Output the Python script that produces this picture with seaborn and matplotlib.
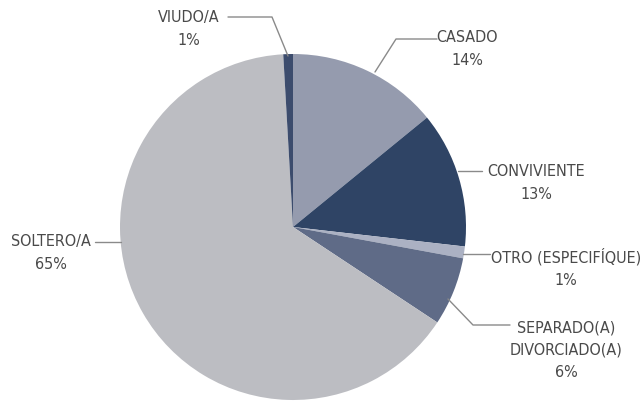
import numpy as np
import seaborn as sns
import matplotlib.pyplot as plt

sns.set_style("white")
plt.rcParams['font.family'] = ['DejaVu Sans']

# datos
categorias = ["CASADO", "CONVIVIENTE", "OTRO (ESPECIFÍQUE)",
              "SEPARADO(A)\nDIVORCIADO(A)", "SOLTERO/A", "VIUDO/A"]
porcentajes = [14.1, 12.7, 1.1, 6.4, 64.8, 0.9]
colores = ["#959bae", "#2f4465", "#abb1c3", "#5f6b87", "#bcbdc2", "#3c4c6d"]

fig = plt.figure(figsize=(6.4, 4.02), dpi=100)
ax = fig.add_axes([120 / 640, 1 / 402, 346 / 640, 346 / 402])
wedges, _ = ax.pie(porcentajes, colors=colores, startangle=90, counterclock=False,
                   radius=1, wedgeprops=dict(linewidth=0))
ax.set_xlim(-1, 1)
ax.set_ylim(-1, 1)
ax.set_aspect('equal')
ax.axis('off')

R = 173.0
def d(px, py):
    return ((px - 293) / R, (228 - py) / R)

# inicio, codo y final de la linea guia + centro del texto, en pixeles
layout = [
    ((375, 73), (396, 40), (437, 40), (467, 49)),
    ((458, 172), (482, 172), (482, 172), (536, 183)),
    ((463, 255), (490, 255), (490, 255), (566, 268)),
    ((448, 300), (473, 326), (510, 326), (566, 350)),
    ((121, 243), (95, 243), (95, 243), (51, 253)),
    ((288, 57), (272, 18), (228, 18), (189, 29)),
]

gris = "#8a8a8a"
for cat, p, (ini, elbow, end, txt) in zip(categorias, porcentajes, layout):
    pts = [d(*ini), d(*elbow), d(*end)]
    ax.plot([q[0] for q in pts], [q[1] for q in pts], color=gris, lw=1, clip_on=False)
    tx, ty = d(*txt)
    ax.text(tx, ty, f"{cat}\n{p:.0f}%", ha='center', va='center',
            fontsize=11.5, fontstretch='condensed', color="#4a4a4a",
            linespacing=1.6, clip_on=False)

fig.savefig("out.png", dpi=100)
